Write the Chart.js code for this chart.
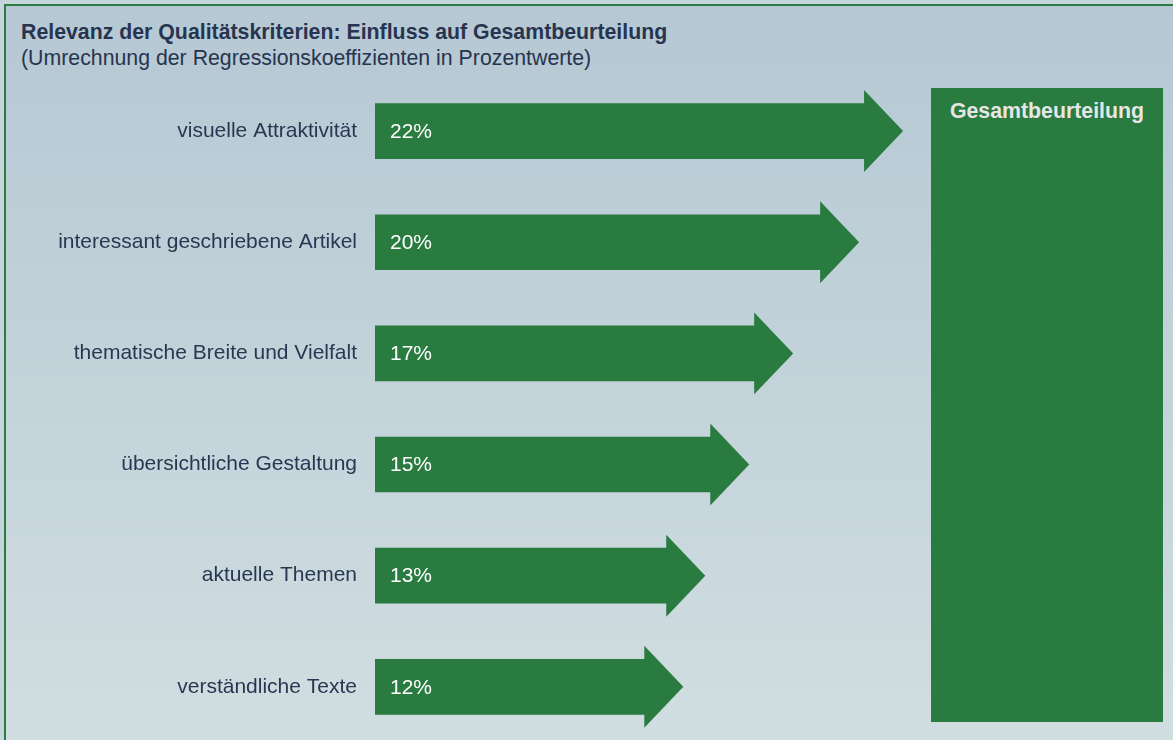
<!DOCTYPE html>
<html>
<head>
<meta charset="utf-8">
<script src="https://cdn.jsdelivr.net/npm/chart.js@4/dist/chart.umd.min.js"></script>
<style>
  html, body { margin: 0; padding: 0; }
  body {
    width: 1173px; height: 740px; overflow: hidden; position: relative;
    background: #c6d4dc;
    font-family: "Liberation Sans", Arial, sans-serif;
  }
  #frame {
    position: absolute; left: 4px; top: 4px; width: 1175px; height: 745px;
    border-left: 2px solid #2b7d3f; border-top: 2px solid #2b7d3f;
    background: linear-gradient(#b5c8d3, #d1dee1);
  }
  #title { position: absolute; left: 21px; top: 19px; font-size: 21.3px; line-height: 26px; font-weight: bold; color: #27344f; }
  #subtitle { position: absolute; left: 21px; top: 45px; font-size: 21.3px; line-height: 26px; color: #27344f; }
  #total {
    position: absolute; left: 931px; top: 88px; width: 232px; height: 634px;
    background: #297b40; color: #e6e6e6; font-size: 21.3px; line-height: 26px; font-weight: bold;
    text-align: center; box-sizing: border-box; padding-top: 10px;
  }
  #myChart { position: absolute; left: 0; top: 0; }
</style>
</head>
<body>
<div id="frame"></div>
<div id="title">Relevanz der Qualitätskriterien: Einfluss auf Gesamtbeurteilung</div>
<div id="subtitle">(Umrechnung der Regressionskoeffizienten in Prozentwerte)</div>
<div id="total">Gesamtbeurteilung</div>
<canvas id="myChart" width="1173" height="773"></canvas>
<script>
const categories = [
  'visuelle Attraktivität',
  'interessant geschriebene Artikel',
  'thematische Breite und Vielfalt',
  'übersichtliche Gestaltung',
  'aktuelle Themen',
  'verständliche Texte'
]
const values = [22, 20, 17, 15, 13, 12]

const green = '#297b40'

// arrow heads + value text on the bars
const arrowPlugin = {
  id: 'arrows',
  afterDatasetsDraw(chart) {
    const ctx = chart.ctx
    const bars = chart.getDatasetMeta(0).data
    ctx.save()
    bars.forEach((bar, i) => {
      const h = bar.height
      ctx.fillStyle = green
      ctx.beginPath()
      ctx.moveTo(bar.x - 1, bar.y - h * 0.745)
      ctx.lineTo(bar.x + 38, bar.y)
      ctx.lineTo(bar.x - 1, bar.y + h * 0.745)
      ctx.closePath()
      ctx.fill()

      ctx.fillStyle = '#ffffff'
      ctx.font = '21px "Liberation Sans", Arial, sans-serif'
      ctx.textAlign = 'left'
      ctx.textBaseline = 'middle'
      ctx.fillText(values[i] + '%', bar.base + 15, bar.y + 1)
    })
    ctx.restore()
  }
}

const ctx = document.getElementById('myChart')
const myChart = new Chart(ctx, {
  type: 'bar',
  data: {
    labels: categories,
    datasets: [{
      data: values,
      base: -0.3,
      backgroundColor: green,
      borderWidth: 0,
      barThickness: 55
    }]
  },
  options: {
    indexAxis: 'y',
    responsive: false,
    animation: false,
    layout: { padding: { top: 75.5, bottom: 0, left: 0, right: 253 } },
    plugins: { legend: { display: false }, tooltip: { enabled: false } },
    scales: {
      x: {
        display: false,
        min: -0.3,
        max: 24.5
      },
      y: {
        grid: { display: false, drawTicks: false },
        border: { display: false },
        ticks: {
          color: '#2a3752',
          padding: 18,
          font: { family: '"Liberation Sans", Arial, sans-serif', size: 21 }
        },
        afterFit: (s) => { s.width = 375 }
      }
    }
  },
  plugins: [arrowPlugin]
})
</script>
</body>
</html>
